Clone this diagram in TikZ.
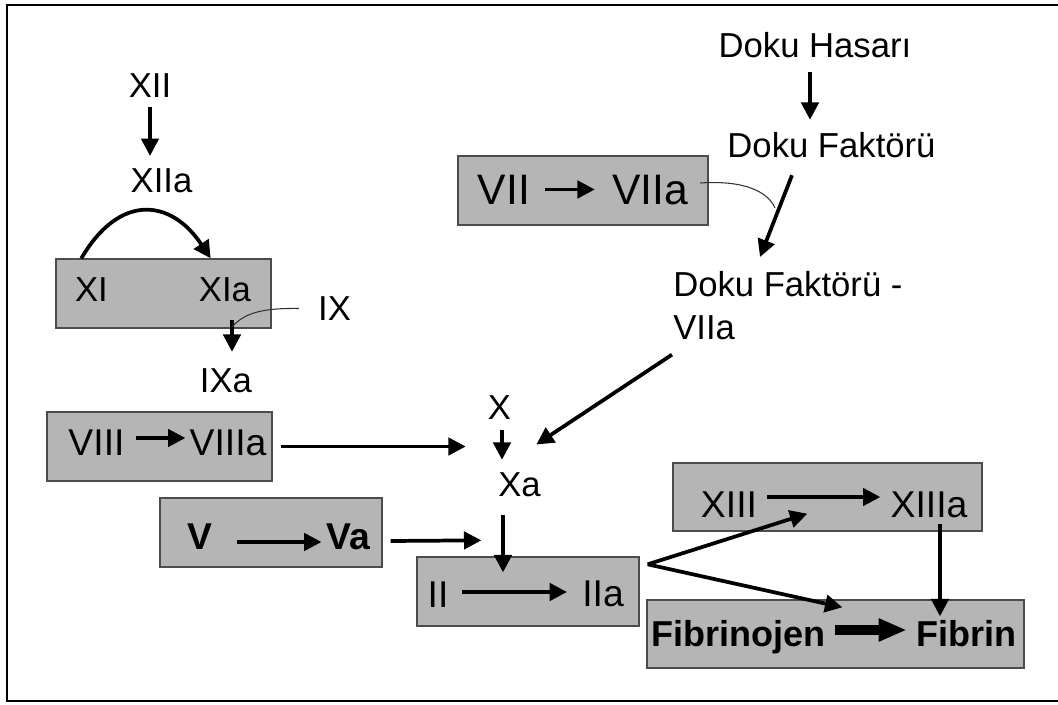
\documentclass[tikz,border=0pt]{standalone}
\usepackage{fontspec}
\setmainfont{Liberation Sans}
\usetikzlibrary{arrows.meta}

\begin{document}
\begin{tikzpicture}[x=0.75pt,y=-0.75pt,
  metin/.style={inner sep=0pt,font=\fontsize{26}{32}\selectfont,text height=18.7pt,text depth=0pt},
  orta/.style={metin,font=\fontsize{28}{33}\selectfont,text height=20.2pt},
  iri/.style={metin,font=\fontsize{32}{38}\selectfont,text height=23pt},
  kalin/.style={metin,font=\fontsize{27}{33}\selectfont\bfseries,text height=19.4pt},
  kalinorta/.style={metin,font=\fontsize{28}{33}\selectfont\bfseries,text height=20.2pt},
  kutu/.style 2 args={draw=black!70,fill=gray!58,line width=1pt,inner sep=0pt,
    minimum width=#1*0.75pt,minimum height=#2*0.75pt},
  ok/.style={line width=2.8pt,-{Triangle[length=13pt,width=13pt]}},
  kalinok/.style={line width=7.5pt,-{Triangle[length=21pt,width=16pt]}},
  ince/.style={line width=0.8pt,black!80}]
\useasboundingbox (0,0) rectangle (1058,705);
\draw[line width=2pt] (1058,5) -- (7,5) -- (7,701) -- (1058,701);

\node[kutu={215}{69}] (bXI) at (163.5,293.5) {};
\node[kutu={250}{69}] (bVII) at (583,190.5) {};
\node[kutu={225}{69}] (bVIII) at (159.5,446.5) {};
\node[kutu={222}{69}] (bV) at (271,532.5) {};
\node[kutu={222}{69}] (bII) at (528,591.5) {};
\node[kutu={309}{68}] (bXIII) at (827.5,497) {};
\node[kutu={377}{68}] (bFib) at (835.5,634) {};

\node[metin] (xii) at (150,85) {XII};
\node[metin] (xiia) at (161.5,180) {XIIa};
\node[metin] (xi) at (91.5,289.5) {XI};
\node[metin] (xia) at (225,289.5) {XIa};
\node[metin] (ix) at (334.5,308.5) {IX};
\node[metin] (ixa) at (226,380.5) {IXa};
\node[metin] (hasar) at (815,45.5) {Doku Hasarı};
\node[metin] (dfak) at (831.5,145.5) {Doku Faktörü};
\node[metin,text height=,text depth=,align=left,anchor=north west] (dfvii) at (673,271) {Doku Faktörü -\\VIIa};
\node[iri] (vii) at (504,189.5) {VII};
\node[iri] (viia) at (650,189.5) {VIIa};
\node[metin] (x) at (499.5,407.5) {X};
\node[metin] (xa) at (519.5,484.5) {Xa};
\node[orta] (viii) at (96.5,442.5) {VIII};
\node[orta] (viiia) at (228,442.5) {VIIIa};
\node[kalinorta] (v) at (199.5,536.5) {V};
\node[kalinorta] (va) at (348.5,536.5) {Va};
\node[orta] (ii) at (438,594) {II};
\node[orta] (iia) at (603,593) {IIa};
\node[orta] (xiii) at (729,504) {XIII};
\node[orta] (xiiia) at (929,504) {XIIIa};
\node[kalin] (fibj) at (738.5,633.5) {Fibrinojen};
\node[kalin] (fibr) at (966,633.5) {Fibrin};

\coordinate (ixkes) at (232,327);
\coordinate (dfkes) at (775,208);
\coordinate (catal) at ([shift={(8,8)}]bII.north east);

\draw[ok,shorten <=7pt,shorten >=8.5pt] (xii.south) -- (xii.south |- xiia.north);
\draw[ok] ([shift={(26,0)}]bXI.north west) .. controls +(38,-65) and +(-40,-60) .. ([shift={(-61,0)}]bXI.north east);
\draw[ok] ([shift={(7,18)}]xia.south) -- ([shift={(6,-16)}]ixa.north);
\draw[ince] ([shift={(-19,0)}]ix.west) .. controls (265,308) and (245,312) .. (ixkes);

\draw[ok] ([shift={(-5,14)}]hasar.south) -- ([shift={(-21.5,-13)}]dfak.north);
\draw[ok] ([shift={(-39.5,17)}]dfak.south) -- ([shift={(87,-14)}]dfvii.north west);
\draw[ince] ([shift={(12,-6.5)}]viia.east) .. controls (745,180) and (768,192) .. (dfkes);
\draw[ok] ([shift={(15,0)}]vii.east) -- ([shift={(-17,0)}]viia.west);
\draw[ok] ([shift={(-1,15)}]dfvii.south west) -- ([shift={(25,37)}]x.east);

\draw[ok] ([shift={(11,-4.5)}]viii.east) -- ([shift={(-4,-4.5)}]viiia.west);
\draw[ok] ([shift={(8,0)}]bVIII.east) -- ([shift={(-22,39)}]x.west);
\draw[ok] ([shift={(2.5,10)}]x.south) -- ([shift={(-17.5,-12)}]xa.north);
\draw[ok] ([shift={(-16.5,18)}]xa.south) -- ([shift={(-25,16)}]bII.north);

\draw[ok] ([shift={(25,5.5)}]v.east) -- ([shift={(-5,5.5)}]va.west);
\draw[ok] ([shift={(8,8.5)}]bV.east) -- ([shift={(65,-16)}]bII.north west);
\draw[ok] ([shift={(13,-2)}]ii.east) -- ([shift={(-15,-1)}]iia.west);

\draw[ok] ([shift={(10,-7)}]xiii.east) -- ([shift={(-10,-7)}]xiiia.west);
\draw[ok] (catal) -- ([shift={(135,-18)}]bXIII.south west);
\draw[ok] (catal) -- ([shift={(196,8)}]bFib.north west);
\draw[ok] ([shift={(11,6.5)}]xiiia.south) -- ([shift={(-26,-4)}]fibr.north);
\draw[kalinok] ([shift={(9,-3.5)}]fibj.east) -- ([shift={(-9,-3.5)}]fibr.west);
\end{tikzpicture}
\end{document}
